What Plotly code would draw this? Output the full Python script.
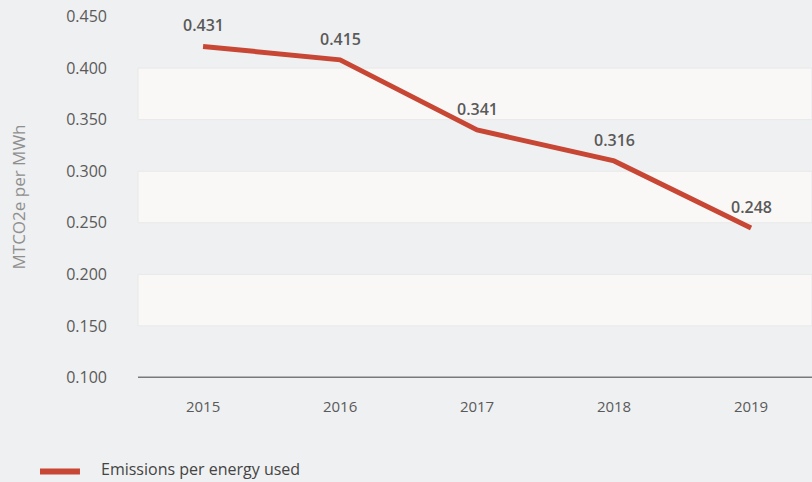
import plotly.graph_objects as go

years = ["2015", "2016", "2017", "2018", "2019"]
# values as labelled on the chart
labels = ["0.431", "0.415", "0.341", "0.316", "0.248"]
# line positions as drawn on the chart
emissions = [0.421, 0.408, 0.340, 0.310, 0.245]
tick_vals = [0.100, 0.150, 0.200, 0.250, 0.300, 0.350, 0.400, 0.450]
bands = [(0.350, 0.400), (0.250, 0.300), (0.150, 0.200)]
series_name = "Emissions per energy used"

red = "#c74634"
bg = "#eff0f1"

fig = go.Figure()
fig.add_trace(go.Scatter(
    x=years, y=emissions, mode="lines",
    name=series_name, showlegend=False,
    line=dict(color=red, width=5),
    hoverinfo="skip",
))

for i, (y, t) in enumerate(zip(emissions, labels)):
    fig.add_annotation(x=i, y=y, text=t, showarrow=False, yshift=21,
                       font=dict(size=16, color="#5a5a5a", family="Open Sans",
                                 weight=600))

for lo, hi in bands:
    fig.add_shape(type="rect", xref="paper", x0=0, x1=1, y0=lo, y1=hi,
                  fillcolor="#f9f8f7", line=dict(color="#e8e8e8", width=1),
                  layer="below")

fig.add_shape(type="line", xref="paper", x0=0, x1=1, y0=0.100, y1=0.100,
              line=dict(color="#7a7a7a", width=2))

# legend drawn by hand below the plot, at the bottom left
fig.add_shape(type="line", xref="paper", yref="paper",
              x0=-0.1454, x1=-0.0861, y0=-0.258, y1=-0.258,
              line=dict(color=red, width=6))
fig.add_annotation(xref="paper", yref="paper", x=-0.0564, y=-0.252,
                   text=series_name, showarrow=False, borderpad=0,
                   xanchor="left", yanchor="middle",
                   font=dict(size=16, color="#444444", family="Open Sans"))

fig.update_layout(
    width=812, height=482,
    margin=dict(l=138, r=0, t=16, b=104),
    paper_bgcolor=bg, plot_bgcolor=bg,
    font=dict(family="Open Sans", color="#5a5a5a"),
    showlegend=False,
    xaxis=dict(
        type="category", range=[-0.475, 4.445],
        showgrid=False, zeroline=False, showline=False,
        ticks="", tickfont=dict(size=15, color="#5a5a5a", weight=500),
        ticklabelstandoff=18,
    ),
    yaxis=dict(
        range=[0.0995, 0.4505], tickvals=tick_vals, tickformat=".3f",
        showgrid=False, zeroline=False, showline=False,
        ticks="", ticklabelstandoff=30,
        tickfont=dict(size=16, color="#5a5a5a", weight=500),
        title=dict(text="MTCO2e per MWh", standoff=36,
                   font=dict(size=17, color="#8f8f8f")),
    ),
)

# drop the page margin so the figure fills the window
fig.write_html("out.html", config={"displayModeBar": False}, post_script=(
    "document.body.style.margin='0';"
    f"document.body.style.background='{bg}';"
))
